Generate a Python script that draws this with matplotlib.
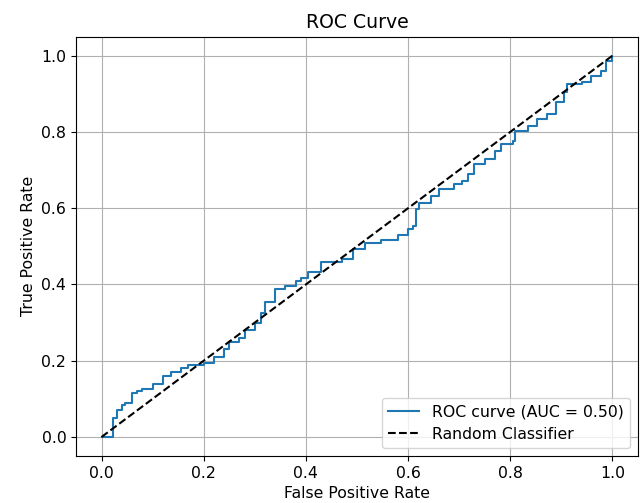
import matplotlib
matplotlib.use("Agg")
import matplotlib.pyplot as plt
import numpy as np

fpr = [0.0, 0.023, 0.023, 0.03, 0.04, 0.045, 0.06, 0.07, 0.08, 0.10, 0.12, 0.135, 0.155, 0.17, 0.20,
       0.22, 0.24, 0.25, 0.27, 0.28, 0.30, 0.313, 0.32, 0.34, 0.36, 0.38, 0.39, 0.405, 0.43, 0.47, 0.493,
       0.515, 0.548, 0.58, 0.60, 0.61, 0.616, 0.622, 0.645, 0.66, 0.69, 0.705, 0.717, 0.73, 0.75, 0.77,
       0.783, 0.805, 0.81, 0.835, 0.853, 0.873, 0.89, 0.905, 0.912, 0.94, 0.958, 0.977, 0.988, 1.0]
tpr = [0.0, 0.0, 0.05, 0.07, 0.085, 0.09, 0.115, 0.12, 0.125, 0.14, 0.16, 0.17, 0.18, 0.19, 0.195,
       0.21, 0.23, 0.25, 0.26, 0.28, 0.30, 0.326, 0.355, 0.387, 0.395, 0.41, 0.418, 0.434, 0.458, 0.466, 0.492,
       0.51, 0.518, 0.53, 0.545, 0.553, 0.597, 0.615, 0.632, 0.65, 0.663, 0.671, 0.69, 0.716, 0.729, 0.75,
       0.768, 0.776, 0.803, 0.816, 0.834, 0.847, 0.879, 0.905, 0.926, 0.932, 0.947, 0.961, 0.987, 1.0]
auc_value = 0.50

plt.rcParams['font.size'] = 11.3

fig = plt.figure(figsize=(6.41, 5.03), dpi=100)
ax = fig.add_axes([0.1186, 0.0934, 0.8764, 0.8336])
ax.plot(fpr, tpr, drawstyle='steps-post', color='#1f77b4', label=f'ROC curve (AUC = {auc_value:.2f})')
ax.plot([0, 1], [0, 1], 'k--', label='Random Classifier')
ax.set_xlabel('False Positive Rate')
ax.set_ylabel('True Positive Rate')
ax.set_title('ROC Curve')
ax.legend(loc='lower right')
ax.grid(True)
fig.savefig('out.png', dpi=100)
